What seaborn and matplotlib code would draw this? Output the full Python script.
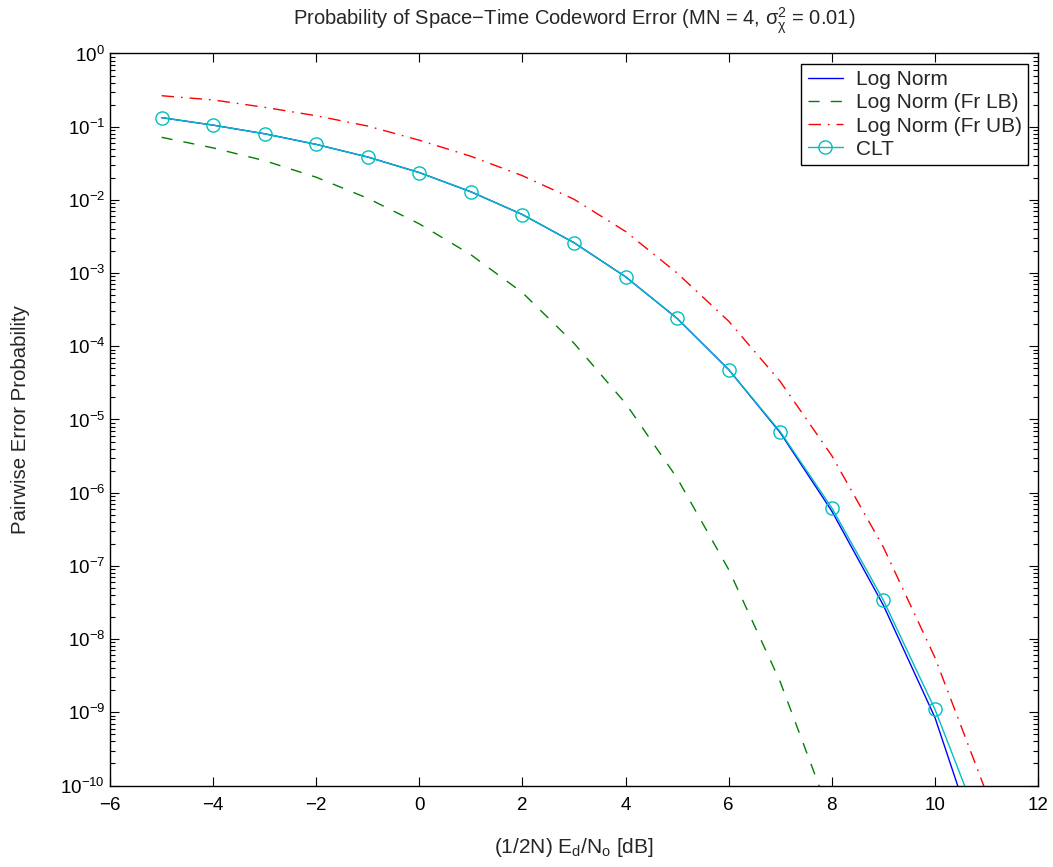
import numpy as np
import matplotlib
matplotlib.use("Agg")
import matplotlib.pyplot as plt
import matplotlib.ticker as mticker
import seaborn as sns

# SNR grid, (1/2N) Ed/No in dB
snr_db = [-5, -4, -3, -2, -1, 0, 1, 2, 3, 4, 5, 6, 7, 8, 9, 10, 11]
snr_db_lb = [-5, -4, -3, -2, -1, 0, 1, 2, 3, 4, 5, 6, 7, 8]

# pairwise error probabilities
log_norm = [0.133, 0.105, 0.080, 0.0573, 0.0385, 0.0236, 0.0129, 0.0063, 0.0026,
            8.9e-4, 2.4e-4, 4.8e-5, 6.6e-6, 5.6e-7, 2.9e-8, 8.5e-10, 6.6e-12]
fr_lb = [0.0716, 0.0513, 0.0343, 0.0204, 0.0105, 4.7e-3, 1.78e-3, 5.4e-4, 1.1e-4,
         1.66e-5, 1.58e-6, 8.9e-8, 2.6e-9, 3.4e-11]
fr_ub = [0.265, 0.232, 0.184, 0.141, 0.102, 0.0653, 0.0394, 0.0214, 0.0102,
         3.7e-3, 1.0e-3, 2.2e-4, 3.3e-5, 3.2e-6, 1.8e-7, 5.6e-9, 7.9e-11]
clt = [0.133, 0.105, 0.080, 0.0573, 0.0385, 0.0236, 0.0129, 0.0063, 0.0026,
       8.9e-4, 2.4e-4, 4.8e-5, 6.8e-6, 6.2e-7, 3.4e-8, 1.1e-9, 1.7e-11]

sns.set_style("ticks")
plt.rcParams["font.family"] = ["Liberation Sans", "DejaVu Sans"]
plt.rcParams["mathtext.fontset"] = "custom"
plt.rcParams["mathtext.rm"] = "Liberation Sans"
plt.rcParams["mathtext.it"] = "Liberation Sans"
plt.rcParams["mathtext.sf"] = "Liberation Sans"
plt.rcParams["mathtext.default"] = "regular"

fig = plt.figure(figsize=(10.53, 8.67), dpi=100)
ax = fig.add_axes([0.1045, 0.094, 0.8813, 0.8443])

sns.lineplot(x=snr_db, y=log_norm, color=(0, 0, 1), lw=1.0, label="Log Norm", ax=ax)
sns.lineplot(x=snr_db_lb, y=fr_lb, color=(0, 0.5, 0), lw=1.0, linestyle=(0, (8, 8)),
             label="Log Norm (Fr LB)", ax=ax)
sns.lineplot(x=snr_db, y=fr_ub, color=(1, 0, 0), lw=1.0, linestyle=(0, (9, 5, 1.2, 5)),
             label="Log Norm (Fr UB)", ax=ax)
sns.lineplot(x=snr_db, y=clt, color=(0, 0.75, 0.75), lw=1.0, marker="o", markersize=9.5,
             markerfacecolor="none", markeredgecolor=(0, 0.75, 0.75), markeredgewidth=1.0,
             label="CLT", ax=ax)

ax.set_yscale("log")
ax.set_xlim(-6, 12)
ax.set_ylim(1e-10, 1)
ax.set_xticks(np.arange(-6, 13, 2))

# one labelled tick per decade, minor ticks 2..9 inside the visible range only
decades = np.arange(-10, 1)
ax.yaxis.set_major_locator(mticker.FixedLocator(10.0 ** decades))
ax.yaxis.set_major_formatter(mticker.FuncFormatter(lambda v, p: r"$10^{%d}$" % round(np.log10(v))))
minor = [m * 10.0 ** d for d in decades[:-1] for m in range(2, 10)]
ax.yaxis.set_minor_locator(mticker.FixedLocator(minor))
ax.yaxis.set_minor_formatter(mticker.NullFormatter())

for s in ax.spines.values():
    s.set_visible(True)
    s.set_linewidth(1.0)
    s.set_color("black")
ax.tick_params(which="both", direction="in", top=True, right=True, colors="black",
               labelsize=13.5, width=0.8)
ax.tick_params(which="major", length=6.5)
ax.tick_params(which="minor", length=3.6)
ax.tick_params(axis="x", pad=8)

ax.set_title(r"Probability of Space$-$Time Codeword Error (MN = 4, $\sigma^2_\chi$ = 0.01)",
             fontsize=14.5, pad=20)
ax.set_xlabel(r"(1/2N) E$_d$/N$_o$ [dB]", fontsize=15, labelpad=16)
ax.set_ylabel("Pairwise Error Probability", fontsize=14.7, labelpad=22)

leg = ax.legend(loc="upper right", bbox_to_anchor=(0.989, 0.9856), borderaxespad=0,
                fontsize=15, frameon=True, fancybox=False, edgecolor="black", framealpha=1,
                handlelength=1.7, borderpad=0.3, labelspacing=0.2, handletextpad=0.6)
leg.get_frame().set_linewidth(1.0)

fig.savefig("out.png", dpi=100)
